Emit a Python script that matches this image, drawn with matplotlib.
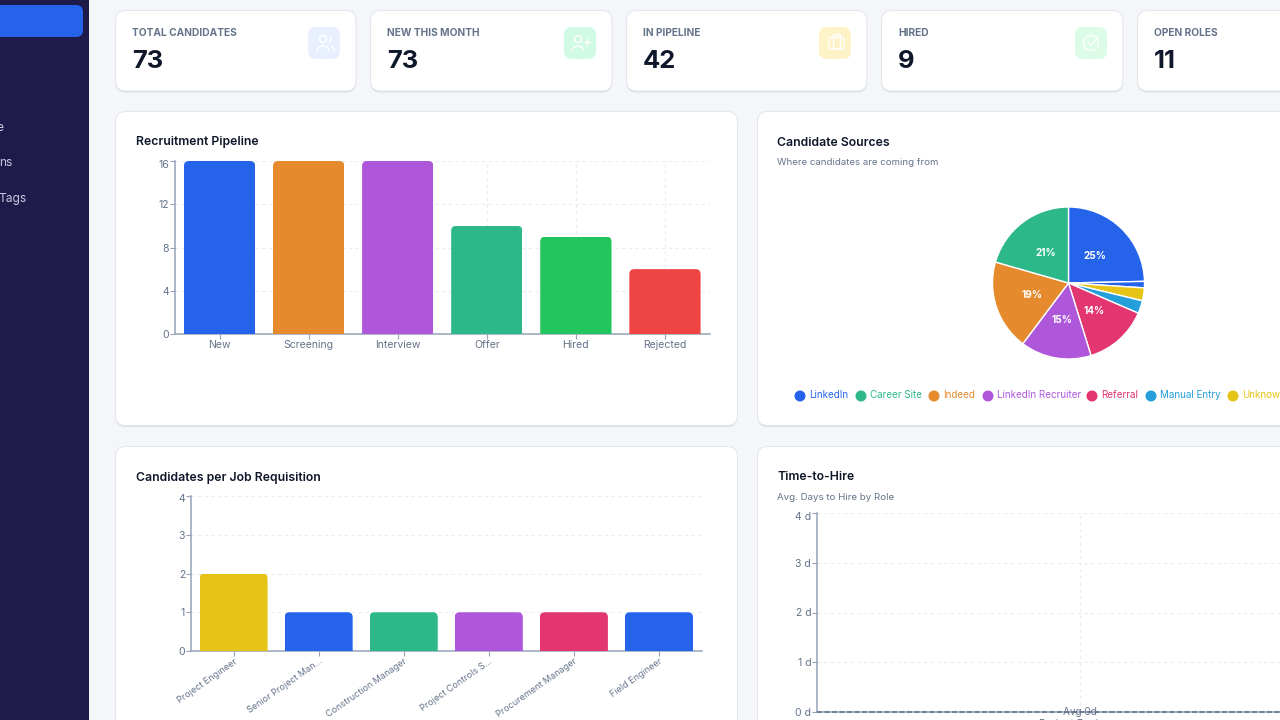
import matplotlib
matplotlib.use("Agg")
import matplotlib.pyplot as plt
from matplotlib.patches import FancyBboxPatch, Rectangle, Circle, Arc
from matplotlib.transforms import ScaledTranslation

plt.rcParams['font.family'] = ['Inter', 'DejaVu Sans']

BLUE = '#2563eb'
GREEN = '#2db88a'
ORANGE = '#e68a2e'
PURPLE = '#ae57db'
PINK = '#e3356f'
SKY = '#259fdc'
YELLOW = '#e6c417'
LIME = '#22c55e'
RED = '#ef4444'

# stat cards
stat_labels = ['TOTAL CANDIDATES', 'NEW THIS MONTH', 'IN PIPELINE', 'HIRED', 'OPEN ROLES']
stat_values = ['73', '73', '42', '9', '11']

# pipeline chart
pipeline_stages = ['New', 'Screening', 'Interview', 'Offer', 'Hired', 'Rejected']
pipeline_counts = [16, 16, 16, 10, 9, 6]
pipeline_colors = [BLUE, ORANGE, PURPLE, GREEN, LIME, RED]

# sources pie, clockwise from the top
source_names = ['LinkedIn', 'Other', 'Unknown', 'Manual Entry', 'Referral',
                'LinkedIn Recruiter', 'Indeed', 'Career Site']
source_counts = [18, 1, 2, 2, 10, 11, 14, 15]
source_colors = [BLUE, BLUE, YELLOW, SKY, PINK, PURPLE, ORANGE, GREEN]

# job requisitions
job_titles = ['Project Engineer', 'Senior Project Man...', 'Construction Manager',
              'Project Controls S...', 'Procurement Manager', 'Field Engineer']
job_counts = [2, 1, 1, 1, 1, 1]
job_colors = [YELLOW, BLUE, GREEN, PURPLE, PINK, BLUE]

# time to hire
hire_roles = ['Project Engineer']
hire_days = [0]

W, H = 1280, 720
fig = plt.figure(figsize=(12.8, 7.2), dpi=100, facecolor='#f4f6f9')

bg = fig.add_axes([0, 0, 1, 1], zorder=0)
bg.set_xlim(0, W)
bg.set_ylim(H, 0)
bg.axis('off')


def px(size):
    return size * 72 / 100


def card(x0, y0, x1, y1, r=10):
    bg.add_patch(FancyBboxPatch((x0, y0 + 1.5), x1 - x0, y1 - y0, boxstyle=f'round,pad=0,rounding_size={r}',
                                fc='#d9dde4', ec='none'))
    bg.add_patch(FancyBboxPatch((x0, y0), x1 - x0, y1 - y0, boxstyle=f'round,pad=0,rounding_size={r}',
                                fc='white', ec='#e4e7ec', lw=0.8))


def label(x, y, s, size, color, weight='normal', **kw):
    kw.setdefault('va', 'center')
    bg.text(x, y, s, fontsize=px(size), color=color, fontweight=weight, **kw)


# sidebar
bg.add_patch(Rectangle((0, 0), 89, H, fc='#1e1b4b', ec='none'))
bg.add_patch(FancyBboxPatch((-20, 5), 103, 32, boxstyle='round,pad=0,rounding_size=7', fc=BLUE, ec='none'))
label(-4, 128, 'e', 12, '#c7cbe0')
label(-1, 163, 'ns', 12, '#c7cbe0')
label(-2, 199, 'Tags', 12, '#c7cbe0')

# stat cards
stat_x = [(115.5, 356), (370.5, 612), (626.5, 867), (881.5, 1123), (1137.5, 1378)]
icon_bg = ['#e8effd', '#d1fae5', '#fef3c7', '#dcfce7', None]
for (x0, x1), name, val, ibg in zip(stat_x, stat_labels, stat_values, icon_bg):
    card(x0, 10.5, x1, 91)
    label(x0 + 16.5, 32.5, name, 10.2, '#64748b', 'bold')
    label(x0 + 16.5, 62, val, 25.5, '#0f172a', 'bold')
    if ibg:
        bg.add_patch(FancyBboxPatch((x1 - 48, 27), 32, 32, boxstyle='round,pad=0,rounding_size=8', fc=ibg, ec='none'))

# icons
ic = dict(fill=False, ec='white', lw=1.0)
bg.add_patch(Circle((323, 39), 3.5, **ic))
bg.add_patch(Arc((323, 51), 12, 10, theta1=180, theta2=360, **ic))
bg.add_patch(Arc((328, 39), 6, 8, theta1=-70, theta2=70, **ic))
bg.add_patch(Arc((331, 51), 6, 10, theta1=270, theta2=360, **ic))
bg.add_patch(Circle((578, 39), 3.5, **ic))
bg.add_patch(Arc((578, 51), 12, 10, theta1=180, theta2=360, **ic))
bg.plot([584, 590], [42, 42], color='white', lw=1.0)
bg.plot([587, 587], [39, 45], color='white', lw=1.0)
bg.add_patch(FancyBboxPatch((829, 37), 15, 12, boxstyle='round,pad=0,rounding_size=2', **ic))
bg.add_patch(Rectangle((833, 34), 7, 3, **ic))
bg.plot([833, 833], [37, 49], color='white', lw=1.0)
bg.plot([840, 840], [37, 49], color='white', lw=1.0)
bg.add_patch(Arc((1091, 43), 15, 15, theta1=-300, theta2=30, **ic))
bg.plot([1088, 1091, 1098], [42, 45, 37], color='white', lw=1.0)

# big cards
card(115.5, 111.5, 737.5, 425.5)
card(757.5, 111.5, 1400, 425.5)
card(115.5, 446.5, 737.5, 800)
card(757.5, 446.5, 1400, 800)
label(135.5, 145.5, 'Recruitment Pipeline', 12.2, '#0f172a', 'semibold', va='baseline')
label(777, 145.5, 'Candidate Sources', 12.2, '#0f172a', 'semibold', va='baseline')
label(777, 165, 'Where candidates are coming from', 9.7, '#64748b', va='baseline')
label(135.5, 480.5, 'Candidates per Job Requisition', 12.2, '#0f172a', 'semibold', va='baseline')
label(777, 480.5, 'Time-to-Hire', 12.2, '#0f172a', 'semibold', va='baseline')
label(777, 500, 'Avg. Days to Hire by Role', 9.7, '#64748b', va='baseline')


def chart_axes(x0, x1, ytop, ybot):
    ax = fig.add_axes([x0 / W, 1 - ybot / H, (x1 - x0) / W, (ybot - ytop) / H], zorder=2)
    ax.patch.set_alpha(0)
    for side in ('top', 'right'):
        ax.spines[side].set_visible(False)
    for side in ('left', 'bottom'):
        ax.spines[side].set_color('#94a3b8')
        ax.spines[side].set_linewidth(1.1)
    ax.tick_params(length=3.5, width=0.8, color='#94a3b8', labelcolor='#64748b', labelsize=px(10.5), pad=0.7)
    ax.grid(True, color='#eaecef', lw=0.8, ls=(0, (3, 3)))
    ax.set_axisbelow(True)
    return ax


def shift_top_label(ax, dy=3):
    lab = ax.get_yticklabels()[-1]
    lab.set_transform(lab.get_transform() + ScaledTranslation(0, -dy / 100, fig.dpi_scale_trans))


def round_bars(ax, names, values, colors, ymax, r_px=5):
    ax.set_xlim(-0.5, len(names) - 0.5)
    ax.set_ylim(0, ymax)
    ax.figure.canvas.draw()
    bbox = ax.get_window_extent()
    rx = r_px * len(names) / bbox.width
    aspect = (ymax / bbox.height) / (len(names) / bbox.width)
    bars = ax.bar(range(len(names)), values, width=0.8, color=colors, zorder=3)
    for b in bars:
        clip = FancyBboxPatch((b.get_x(), -ymax * 0.2), b.get_width(), b.get_height() + ymax * 0.2,
                              boxstyle=f'round,pad=0,rounding_size={rx}', mutation_aspect=aspect,
                              transform=ax.transData)
        b.set_clip_path(clip)
    ax.set_xticks(range(len(names)))


# pipeline
ax1 = chart_axes(175, 709.5, 161, 334)
round_bars(ax1, pipeline_stages, pipeline_counts, pipeline_colors, 16)
ax1.set_xticklabels(pipeline_stages)
ax1.set_yticks([0, 4, 8, 12, 16])
shift_top_label(ax1)

# pie
ax2 = fig.add_axes([(1068.5 - 76) / W, 1 - (283 + 76) / H, 152 / W, 152 / H], zorder=2)
ax2.pie(source_counts, colors=source_colors, startangle=90, counterclock=False,
        wedgeprops=dict(edgecolor='white', linewidth=1),
        autopct=lambda p: f'{p:.0f}%' if p > 5 else '', pctdistance=0.5,
        textprops=dict(color='white', fontsize=px(10), fontweight='bold'))
ax2.set_xlim(-1.0, 1.0)
ax2.set_ylim(-1.0, 1.0)

# legend, cut off by the right edge like the reference
legend_names = ['LinkedIn', 'Career Site', 'Indeed', 'LinkedIn Recruiter', 'Referral', 'Manual Entry', 'Unknown']
legend_colors = [BLUE, GREEN, ORANGE, PURPLE, PINK, SKY, YELLOW]
legend_x = [800, 861, 934, 988, 1092, 1151, 1233]
for lx, name, col in zip(legend_x, legend_names, legend_colors):
    bg.add_patch(Circle((lx, 396), 5.5, fc=col, ec='none'))
    label(lx + 9, 395, name, 9.8, col)

# jobs
ax3 = chart_axes(191, 701.5, 496, 651)
round_bars(ax3, job_titles, job_counts, job_colors, 4)
ax3.set_xticklabels(job_titles, rotation=35, ha='right', rotation_mode='anchor', fontsize=px(9))
ax3.set_yticks([0, 1, 2, 3, 4])
ax3.grid(False, axis='x')
shift_top_label(ax3, 2)

# time to hire, runs off the right edge
ax4 = chart_axes(817, 1343, 513, 712)
ax4.set_xlim(-0.5, 0.5)
ax4.set_ylim(0, 4)
ax4.bar(range(len(hire_roles)), hire_days, width=0.8, color=BLUE, zorder=3)
ax4.set_xticks(range(len(hire_roles)))
ax4.set_xticklabels(hire_roles)
ax4.tick_params(axis='x', length=0, pad=5)
ax4.set_yticks([0, 1, 2, 3, 4])
ax4.set_yticklabels([f'{d} d' for d in range(5)])
ax4.axhline(0, color='#64748b', lw=1.2, ls=(0, (3, 1.5)), zorder=4, clip_on=False)
avg_days = sum(hire_days) / len(hire_days)
ax4.text(0, avg_days, f'Avg {avg_days:.0f}d', ha='center', va='center', fontsize=px(10), color='#64748b',
         zorder=5, clip_on=False)
shift_top_label(ax4)

fig.savefig('out.png', dpi=100, facecolor=fig.get_facecolor())
